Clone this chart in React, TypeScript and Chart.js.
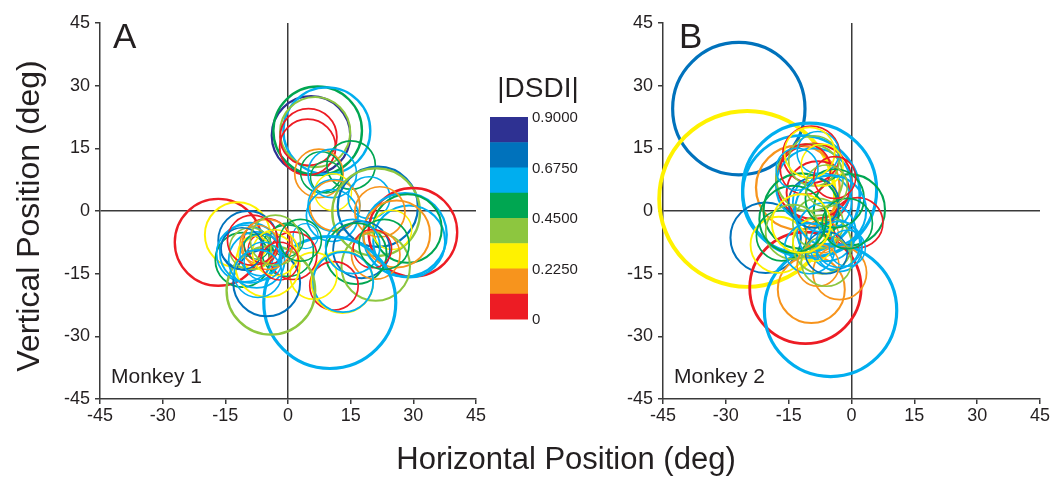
import React, { useEffect, useRef } from 'react';
import { Chart, registerables } from 'chart.js';

Chart.register(...registerables);

// ---------- data ----------
const AXIS_MIN = -45;
const AXIS_MAX = 45;
const AXIS_STEP = 15;

const DSDI_COLORS = ['#ED1C24', '#F7941D', '#FFF200', '#8DC63F', '#00A651', '#00AEEF', '#0072BC', '#2E3192'];
const DSDI_TICKS = ['0.9000', '0.6750', '0.4500', '0.2250', '0'];
const DSDI_MAX = 0.9;

// Monkey 1: receptive-field centres (deg), radii (deg), |DSDI|
const m1X = [5.5, 7.1, 9.3, 6.5, 4.9, 4.7, 7.4, 15.1, 7.9, 10.6, 9.2, 10.8, 11.0, 11.2, 10.6, 21.5, 21.1, 19.4, 29.9, 28.0, 29.0, 28.6, 26.0, 24.9, 22.0, 17.6, 16.3, 21.0, 21.0, 20.2, 10.0, 11.0, 13.0, 13.2, 6.1, -0.1, 4.2, 1.2, -16.7, -12.1, -9.6, -10.9, -10.3, -5.1, -4.1, -4.9, -5.1, -0.3, -7.5, -9.1, -7.0, -6.0, -8.0, -9.0, -6.5, -7.5, -5.0, -8.5, -3.0, -11.0, -6.0, -3.0, -2.0, -7.2, 3.0, 15.5, 23.0];
const m1Y = [18.1, 19.2, 19.2, 18.9, 17.7, 15.3, 9.0, 11.0, 9.3, 9.0, 8.1, 4.5, 1.3, 1.3, -1.1, 1.0, -0.3, 3.2, -5.1, -5.7, -7.3, -4.2, -5.5, -4.5, -0.2, -9.3, -10.2, -13.3, -10.5, -9.0, -21.9, -17.9, -17.0, -17.0, -15.5, -9.5, -6.0, -10.7, -7.5, -5.7, -7.1, -11.7, -10.2, -17.2, -19.0, -12.9, -7.3, -6.9, -11.7, -10.0, -8.0, -9.0, -10.0, -9.0, -10.5, -8.5, -8.0, -7.0, -10.0, -9.0, -12.0, -7.0, -12.0, -15.0, -7.0, -8.5, -8.0];
const m1R = [9.4, 10.6, 10.4, 8.4, 6.8, 6.7, 5.8, 5.8, 4.9, 5.8, 3.8, 4.4, 6.2, 6.0, 6.2, 9.6, 10.5, 5.0, 10.6, 10.0, 8.6, 8.2, 8.0, 4.7, 6.0, 6.8, 7.3, 8.2, 5.8, 4.6, 15.8, 5.8, 7.4, 7.2, 5.6, 6.2, 3.0, 5.7, 10.4, 7.8, 7.1, 6.5, 6.8, 8.0, 10.6, 7.7, 5.5, 4.0, 6.7, 7.2, 4.5, 3.5, 4.0, 5.0, 5.0, 3.0, 6.0, 6.0, 5.5, 5.0, 4.5, 6.0, 4.5, 5.7, 5.0, 6.5, 6.0];
const m1D = [0.84, 0.52, 0.62, 0.40, 0.06, 0.08, 0.18, 0.50, 0.53, 0.63, 0.49, 0.29, 0.64, 0.17, 0.60, 0.74, 0.41, 0.61, 0.05, 0.62, 0.65, 0.51, 0.19, 0.30, 0.16, 0.72, 0.50, 0.40, 0.20, 0.07, 0.64, 0.09, 0.31, 0.60, 0.29, 0.50, 0.60, 0.07, 0.05, 0.29, 0.73, 0.52, 0.63, 0.74, 0.40, 0.30, 0.06, 0.51, 0.61, 0.65, 0.18, 0.08, 0.28, 0.41, 0.62, 0.52, 0.17, 0.07, 0.31, 0.72, 0.64, 0.39, 0.06, 0.60, 0.53, 0.66, 0.51];

// Monkey 2
const m2X = [-26.9, -24.9, -10.0, -12.0, -12.8, -9.0, -9.6, -0.5, 1.5, -20.5, -11.0, -5.0, -9.6, -2.8, -17.4, -16.7, -8.0, -9.0, -7.0, -10.0, -12.0, -8.0, -6.0, -4.0, -3.0, -7.0, -9.0, -7.0, -11.0, -9.0, -8.0, -9.0, -7.0, -4.0, -5.0, -14.0, -10.0, -6.0, -8.0, -6.0, -1.0, -3.0, -10.0, -1.0, -14.0, -4.0, -12.0, -6.0, -13.0];
const m2Y = [24.5, 2.9, 5.0, 4.0, 5.6, 7.1, 13.5, 0.3, -2.8, -6.4, -18.4, -23.8, -18.8, -14.8, -8.1, -5.9, 4.4, 6.0, 2.0, 8.0, 0.0, -3.0, -5.0, -8.0, -9.0, -8.0, -7.0, -6.0, 10.0, 12.0, 14.0, 2.0, 11.0, 3.0, 0.0, -5.0, -9.0, -10.0, -13.0, -12.0, -8.9, -8.0, 14.0, -3.0, -2.0, 8.0, -3.0, 6.0, 10.0];
const m2R = [15.8, 21.0, 16.0, 14.0, 10.0, 9.0, 6.8, 8.5, 6.0, 8.4, 13.3, 15.8, 8.0, 6.4, 6.7, 6.0, 7.5, 9.0, 7.0, 8.0, 9.0, 6.0, 7.0, 6.0, 5.5, 7.0, 5.0, 4.0, 6.0, 6.0, 5.0, 6.0, 5.0, 7.0, 8.5, 6.5, 6.0, 5.0, 5.0, 6.0, 4.3, 5.5, 6.0, 6.0, 8.0, 5.0, 7.0, 5.0, 5.0];
const m2D = [0.74, 0.30, 0.63, 0.61, 0.18, 0.07, 0.06, 0.52, 0.08, 0.74, 0.05, 0.64, 0.18, 0.19, 0.29, 0.51, 0.06, 0.62, 0.66, 0.41, 0.52, 0.40, 0.62, 0.63, 0.60, 0.39, 0.30, 0.17, 0.08, 0.42, 0.64, 0.73, 0.30, 0.53, 0.61, 0.40, 0.65, 0.72, 0.18, 0.41, 0.62, 0.66, 0.29, 0.51, 0.50, 0.08, 0.31, 0.40, 0.62];

// ---------- helpers ----------
const FONT = "'Liberation Sans', Arial, Helvetica, sans-serif";
const INK = '#231f20';
const AXIS_INK = '#3a3a3a';

function colorFor(d: number): string {
  const n = DSDI_COLORS.length;
  const idx = Math.max(0, Math.min(n - 1, Math.floor((d / DSDI_MAX) * n)));
  return DSDI_COLORS[idx];
}

const colorbarPlugin = {
  id: 'colorbar',
  afterDraw(chart: any) {
    const ctx = chart.ctx;
    const x0 = 490, w = 38, top = 117, segH = 25.25;
    const n = DSDI_COLORS.length;
    ctx.save();
    for (let i = 0; i < n; i++) {
      ctx.fillStyle = DSDI_COLORS[n - 1 - i];
      ctx.fillRect(x0, top + i * segH, w, segH + 0.5);
    }
    ctx.fillStyle = INK;
    ctx.font = `15px ${FONT}`;
    ctx.textAlign = 'left';
    ctx.textBaseline = 'middle';
    DSDI_TICKS.forEach((t, k) => {
      ctx.fillText(t, x0 + w + 4, top + k * 2 * segH + 1);
    });
    ctx.font = `28px ${FONT}`;
    ctx.textAlign = 'center';
    ctx.fillText('|DSDI|', 538, 89);
    // shared vertical axis title
    ctx.translate(30, 216);
    ctx.rotate(-Math.PI / 2);
    ctx.font = `32px ${FONT}`;
    ctx.fillText('Vertical Position (deg)', 0, 0);
    ctx.restore();
  },
};

function panelLabelPlugin(letter: string, monkey: string, letterDx: number) {
  return {
    id: 'panelLabel' + letter,
    afterDraw(chart: any) {
      const { ctx, chartArea } = chart;
      ctx.save();
      ctx.fillStyle = INK;
      ctx.textAlign = 'left';
      ctx.textBaseline = 'alphabetic';
      ctx.font = `35px ${FONT}`;
      ctx.fillText(letter, chartArea.left + letterDx, chartArea.top + 24.5);
      ctx.font = `21px ${FONT}`;
      ctx.fillText(monkey, chartArea.left + 11, chartArea.bottom - 16);
      ctx.restore();
    },
  };
}

function makeConfig(xs: number[], ys: number[], rs: number[], ds: number[], yWidth: number, padRight: number, plugins: any[]) {
  const data = xs.map((x, i) => ({ x, y: ys[i] }));
  const radiusPx = (c: any) => {
    const s = c.chart.scales.x;
    const r = rs[c.dataIndex] ?? 0;
    return Math.abs(s.getPixelForValue(r) - s.getPixelForValue(0));
  };
  const gridColor = (c: any) => (c.tick && c.tick.value === 0 ? AXIS_INK : 'rgba(0,0,0,0)');
  const tickFont = { family: FONT, size: 18 };
  return {
    type: 'scatter',
    data: {
      datasets: [
        {
          data,
          showLine: false,
          clip: false,
          pointStyle: 'circle',
          pointRadius: radiusPx,
          pointHoverRadius: radiusPx,
          pointBorderWidth: (c: any) => 0.8 + 0.15 * (rs[c.dataIndex] ?? 0),
          pointHoverBorderWidth: (c: any) => 0.8 + 0.15 * (rs[c.dataIndex] ?? 0),
          pointBorderColor: (c: any) => colorFor(ds[c.dataIndex] ?? 0),
          pointHoverBorderColor: (c: any) => colorFor(ds[c.dataIndex] ?? 0),
          pointBackgroundColor: 'rgba(0,0,0,0)',
          pointHoverBackgroundColor: 'rgba(0,0,0,0)',
        },
      ],
    },
    options: {
      animation: false,
      responsive: false,
      devicePixelRatio: 1,
      events: [],
      layout: { padding: { left: 0, top: 23, right: padRight, bottom: 0 } },
      plugins: { legend: { display: false }, tooltip: { enabled: false } },
      scales: {
        x: {
          type: 'linear',
          min: AXIS_MIN,
          max: AXIS_MAX,
          afterFit: (s: any) => { s.height = 78; },
          ticks: { stepSize: AXIS_STEP, font: tickFont, color: INK, padding: 1, maxRotation: 0 },
          grid: { color: gridColor, lineWidth: 1.5, tickColor: AXIS_INK, tickWidth: 1.5, tickLength: 5 },
          border: { display: true, color: AXIS_INK, width: 1.5 },
        },
        y: {
          type: 'linear',
          min: AXIS_MIN,
          max: AXIS_MAX,
          afterFit: (s: any) => { s.width = yWidth; },
          ticks: { stepSize: AXIS_STEP, font: tickFont, color: INK, padding: 5 },
          grid: { color: gridColor, lineWidth: 1.5, tickColor: AXIS_INK, tickWidth: 1.5, tickLength: 5 },
          border: { display: true, color: AXIS_INK, width: 1.5 },
        },
      },
    },
    plugins,
  };
}

function Panel(props: { left: number; width: number; build: () => any }) {
  const ref = useRef<HTMLCanvasElement | null>(null);
  useEffect(() => {
    if (!ref.current) return;
    const chart = new Chart(ref.current, props.build());
    return () => chart.destroy();
  }, []);
  return (
    <canvas
      ref={ref}
      width={props.width}
      height={477}
      style={{ position: 'absolute', left: props.left, top: 0, width: props.width, height: 477 }}
    />
  );
}

export default function App() {
  return (
    <div style={{ position: 'absolute', left: 0, top: 0, width: 1050, height: 477, overflow: 'hidden', background: '#fff' }}>
      <Panel
        left={0}
        width={600}
        build={() => makeConfig(m1X, m1Y, m1R, m1D, 100, 124, [colorbarPlugin, panelLabelPlugin('A', 'Monkey 1', 13)])}
      />
      <Panel
        left={550}
        width={520}
        build={() => makeConfig(m2X, m2Y, m2R, m2D, 113, 30, [panelLabelPlugin('B', 'Monkey 2', 16)])}
      />
      <div
        style={{
          position: 'absolute',
          left: 566,
          top: 443,
          transform: 'translateX(-50%)',
          whiteSpace: 'nowrap',
          fontFamily: FONT,
          fontSize: 31,
          lineHeight: '31px',
          color: INK,
        }}
      >
        Horizontal Position (deg)
      </div>
    </div>
  );
}
